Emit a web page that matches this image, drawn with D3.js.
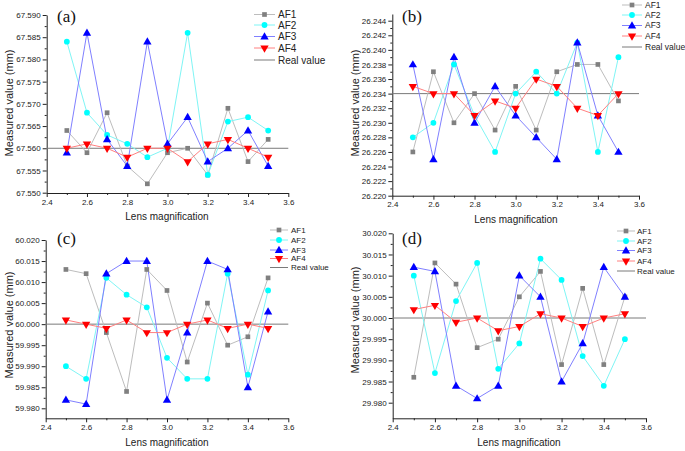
<!DOCTYPE html>
<html><head><meta charset="utf-8">
<script src="https://cdn.jsdelivr.net/npm/d3@7"></script>
<style>body{margin:0;background:#fff}svg{display:block}</style>
</head><body>
<svg id="c" width="685" height="451"></svg>
<script>
const magnification = [2.5,2.6,2.7,2.8,2.9,3.0,3.1,3.2,3.3,3.4,3.5];
const xTicks = [2.4,2.6,2.8,3.0,3.2,3.4,3.6];
const seriesNames = ["AF1","AF2","AF3","AF4"];

const aAF1 = [67.564,67.559,67.568,67.556,67.552,67.559,67.560,67.554,67.569,67.557,67.562];
const aAF2 = [67.584,67.568,67.563,67.561,67.558,67.560,67.586,67.554,67.566,67.567,67.564];
const aAF3 = [67.559,67.586,67.562,67.556,67.584,67.561,67.567,67.557,67.560,67.564,67.556];
const aAF4 = [67.560,67.561,67.560,67.558,67.560,67.560,67.557,67.561,67.562,67.560,67.558];
const aReal = 67.560;
const aTicks = [67.550,67.555,67.560,67.565,67.570,67.575,67.580,67.585,67.590];

const bAF1 = [26.226,26.237,26.230,26.234,26.229,26.235,26.229,26.237,26.238,26.238,26.233];
const bAF2 = [26.228,26.230,26.238,26.231,26.226,26.234,26.237,26.234,26.241,26.226,26.239];
const bAF3 = [26.238,26.225,26.239,26.230,26.235,26.231,26.228,26.225,26.241,26.231,26.226];
const bAF4 = [26.235,26.234,26.234,26.231,26.233,26.232,26.236,26.235,26.232,26.231,26.234];
const bReal = 26.234;
const bTicks = [26.220,26.222,26.224,26.226,26.228,26.230,26.232,26.234,26.236,26.238,26.240,26.242,26.244];

const cAF1 = [60.013,60.012,59.998,59.984,60.013,60.008,59.991,60.005,59.995,59.997,60.011];
const cAF2 = [59.990,59.987,60.011,60.007,60.004,59.992,59.987,59.987,60.012,59.988,60.008];
const cAF3 = [59.982,59.981,60.012,60.015,60.015,59.982,59.998,60.015,60.013,59.985,60.003];
const cAF4 = [60.001,60.000,59.999,60.001,59.998,59.998,60.000,60.001,59.999,60.000,59.999];
const cReal = 60.000;
const cTicks = [59.980,59.985,59.990,59.995,60.000,60.005,60.010,60.015,60.020];

const dAF1 = [29.986,30.013,30.008,29.993,29.995,30.005,30.011,29.989,30.007,29.989,30.005];
const dAF2 = [30.010,29.987,30.004,30.013,29.988,29.994,30.014,30.009,29.991,29.984,29.995];
const dAF3 = [30.012,30.011,29.984,29.981,29.984,30.010,30.005,29.985,29.994,30.012,30.005];
const dAF4 = [30.002,30.003,29.999,30.000,29.997,29.998,30.001,30.000,29.998,30.000,30.001];
const dReal = 30.000;
const dTicks = [29.980,29.985,29.990,29.995,30.000,30.005,30.010,30.015,30.020];

const lineColors = ["#bdbdbd","#7ff5f5","#8080ff","#ff8080"];
const markColors = ["#808080","#00ffff","#0000ff","#ff0000"];
const markShapes = [d3.symbolSquare, d3.symbolCircle, d3.symbolTriangle, "down"];

const panels = [
  {label:"(a)", series:[aAF1,aAF2,aAF3,aAF4], real:aReal, ticks:aTicks,
   xL:46.7, xR:288.3, yTopPx:15, yBotPx:192.7, axisTop:15, axisBot:193,
   lab:[57,22], xt:[167,220], yt:[9,103],
   leg:{x1:254,x2:275,tx:278,ys:[14.5,25,36.5,48,60],fs:10}},
  {label:"(b)", series:[bAF1,bAF2,bAF3,bAF4], real:bReal, ticks:bTicks,
   xL:392.3, xR:639, yTopPx:20.7, yBotPx:195.7, axisTop:14, axisBot:195.7,
   lab:[402,22], xt:[516,223], yt:[355,103],
   leg:{x1:622,x2:642,tx:645,ys:[5,15,25.5,36,47],fs:8.5}},
  {label:"(c)", series:[cAF1,cAF2,cAF3,cAF4], real:cReal, ticks:cTicks,
   xL:45.7, xR:288.3, yTopPx:240, yBotPx:408.3, axisTop:240, axisBot:418.3,
   lab:[57,244], xt:[167,446], yt:[9,325],
   leg:{x1:270,x2:288,tx:291,ys:[230,240,250,258.5,267.5],fs:8}},
  {label:"(d)", series:[dAF1,dAF2,dAF3,dAF4], real:dReal, ticks:dTicks,
   xL:392.7, xR:646, yTopPx:233.3, yBotPx:402.7, axisTop:233.3, axisBot:418.3,
   lab:[402,244], xt:[519,446], yt:[355,320],
   leg:{x1:617,x2:635,tx:637,ys:[231,241,250.5,261,271],fs:8}}
];

const svg = d3.select("#c");
const font = "Arial, 'Liberation Sans', sans-serif";

function marker(g, shapeIdx, color, x, y) {
  const s = markShapes[shapeIdx];
  if (s === "down") {
    g.append("path").attr("d", d3.symbol(d3.symbolTriangle).size(30)())
      .attr("transform", `translate(${x},${y}) rotate(180)`).attr("fill", color);
  } else {
    const size = s === d3.symbolSquare ? 22 : (s === d3.symbolCircle ? 26 : 30);
    g.append("path").attr("d", d3.symbol(s).size(size)())
      .attr("transform", `translate(${x},${y + (s===d3.symbolTriangle?0.5:0)})`).attr("fill", color);
  }
}

panels.forEach(p => {
  const g = svg.append("g");
  const x = d3.scaleLinear().domain([2.4,3.6]).range([p.xL,p.xR]);
  const t0 = p.ticks[0], t1 = p.ticks[p.ticks.length-1];
  const y = d3.scaleLinear().domain([t0,t1]).range([p.yBotPx,p.yTopPx]);
  const yAx = d3.scaleLinear().domain([y.invert(p.axisBot), y.invert(p.axisTop)]).range([p.axisBot,p.axisTop]);
  const xAxisG = g.append("g").attr("transform",`translate(0,${p.axisBot})`)
    .call(d3.axisBottom(x).tickValues(xTicks).tickFormat(d3.format(".1f")).tickSize(4).tickSizeOuter(0).tickPadding(2));
  const minorX = d3.range(2.5,3.6,0.2);
  g.append("g").attr("transform",`translate(0,${p.axisBot})`)
    .call(d3.axisBottom(x).tickValues(minorX).tickFormat("").tickSize(2).tickSizeOuter(0))
    .select(".domain").remove();
  const yAxisG = g.append("g").attr("transform",`translate(${p.xL},0)`)
    .call(d3.axisLeft(yAx).tickValues(p.ticks).tickFormat(d3.format(".3f")).tickSize(4).tickSizeOuter(0).tickPadding(2));
  const step = p.ticks[1]-p.ticks[0];
  const minorY = p.ticks.slice(0,-1).map(v => v + step/2);
  g.append("g").attr("transform",`translate(${p.xL},0)`)
    .call(d3.axisLeft(yAx).tickValues(minorY).tickFormat("").tickSize(2).tickSizeOuter(0))
    .select(".domain").remove();
  g.selectAll(".tick text").attr("font-family",font).attr("font-size",8).attr("fill","#222");
  g.selectAll(".domain, .tick line").attr("stroke","#222");

  // real value line
  g.append("line").attr("x1",x(2.4)).attr("x2",x(3.6)).attr("y1",y(p.real)).attr("y2",y(p.real))
    .attr("stroke","#7a7a7a").attr("stroke-width",1);

  const line = d3.line().x((d,i)=>x(magnification[i])).y(d=>y(d));
  p.series.forEach((s,k) => {
    g.append("path").datum(s).attr("d",line).attr("fill","none")
      .attr("stroke",lineColors[k]).attr("stroke-width",1);
  });
  p.series.forEach((s,k) => {
    s.forEach((v,i) => marker(g,k,markColors[k],x(magnification[i]),y(v)));
  });

  // labels
  g.append("text").attr("x",p.lab[0]).attr("y",p.lab[1]).text(p.label)
    .attr("font-family","'Liberation Serif','Times New Roman',serif").attr("font-size",17).attr("fill","#111");
  g.append("text").attr("x",p.xt[0]).attr("y",p.xt[1]).attr("text-anchor","middle").text("Lens magnification")
    .attr("font-family",font).attr("font-size",10).attr("fill","#222");
  g.append("text").attr("transform",`translate(${p.yt[0]+4},${p.yt[1]}) rotate(-90)`).attr("text-anchor","middle")
    .text("Measured value (mm)").attr("font-family",font).attr("font-size",11).attr("fill","#222");

  // legend
  const L = p.leg;
  const names = seriesNames.concat(["Real value"]);
  names.forEach((n,k) => {
    const yy = L.ys[k];
    g.append("line").attr("x1",L.x1).attr("x2",L.x2).attr("y1",yy).attr("y2",yy)
      .attr("stroke", k<4 ? lineColors[k] : "#7a7a7a").attr("stroke-width",1);
    if (k<4) marker(g,k,markColors[k],(L.x1+L.x2)/2,yy);
    g.append("text").attr("x",L.tx).attr("y",yy).attr("dy","0.35em").text(n)
      .attr("font-family",font).attr("font-size",L.fs).attr("fill","#222");
  });
});
</script>
</body></html>
